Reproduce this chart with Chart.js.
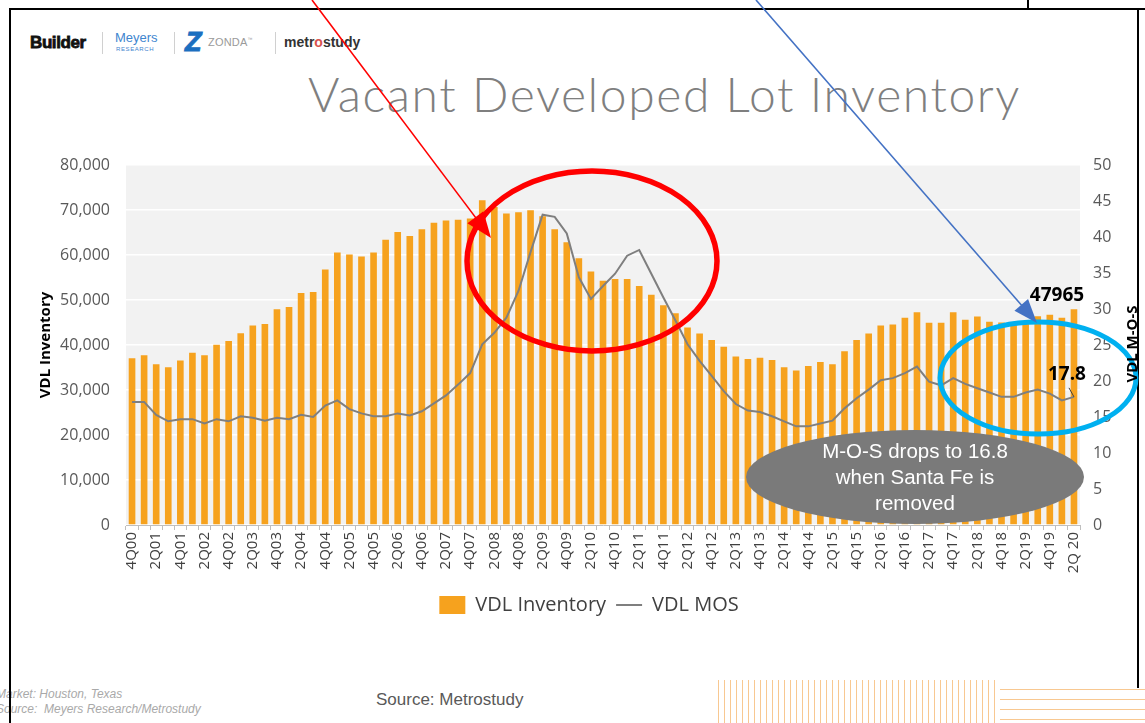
<!DOCTYPE html>
<html><head><meta charset="utf-8">
<script src="https://cdn.jsdelivr.net/npm/chart.js@4.4.0/dist/chart.umd.min.js"></script>
<style>
html,body{margin:0;padding:0;background:#fff;}
#wrap{position:relative;width:1145px;height:723px;overflow:hidden;font-family:'Liberation Sans',Arial,sans-serif;}
canvas{position:absolute;left:0;top:0;}
.abs{position:absolute;white-space:nowrap;}
.sep{position:absolute;width:1px;background:#d0d0d0;}
</style></head><body>
<div id="wrap">
  <!-- logos -->
  <div class="abs" style="left:30px;top:33px;font:bold 17px 'Liberation Sans';letter-spacing:-0.4px;color:#111;-webkit-text-stroke:0.8px #111;">Builder</div>
  <div class="sep" style="left:102px;top:32px;height:22px"></div>
  <div class="abs" style="left:115px;top:30px;font:13px 'Liberation Sans';color:#3f86cf;">Meyers</div>
  <div class="abs" style="left:116px;top:46px;font:6px 'Liberation Sans';color:#3f86cf;letter-spacing:0.6px;">RESEARCH</div>
  <div class="sep" style="left:174px;top:32px;height:22px"></div>
  <div class="abs" style="left:185px;top:27px;font:italic bold 27px 'Liberation Sans';color:#1c6fc0;-webkit-text-stroke:1px #1c6fc0;">Z</div>
  <div class="abs" style="left:208px;top:36px;font:11px 'Liberation Sans';color:#9a9a9a;letter-spacing:0.2px;">ZONDA<sup style="font-size:5px">™</sup></div>
  <div class="sep" style="left:275px;top:32px;height:22px"></div>
  <div class="abs" style="left:284px;top:34px;font:bold 14px 'Liberation Sans';color:#333;">metr<span style="color:#d9534f">o</span>study</div>
  <!-- title -->
  <div class="abs" style="left:308px;top:65px;font:300 48px Lato;letter-spacing:1.6px;color:#7f7f7f;">Vacant Developed Lot Inventory</div>
  <!-- footer -->
  <div class="abs" style="left:-4px;top:687px;font:italic 12px 'Liberation Sans';color:#a9a9a9;">Market: Houston, Texas</div>
  <div class="abs" style="left:-4px;top:702px;font:italic 12px 'Liberation Sans';color:#a9a9a9;">Source:&nbsp; Meyers Research/Metrostudy</div>
  <div class="abs" style="left:376px;top:690px;font:17px 'Liberation Sans';color:#595959;">Source: Metrostudy</div>
  <div class="abs" style="left:718px;top:680px;width:282px;height:43px;background:repeating-linear-gradient(90deg,#f8c891 0 1px,transparent 1px 6px);"></div>
  <div class="abs" style="left:1000px;top:680px;width:145px;height:43px;background:repeating-linear-gradient(180deg,transparent 0 9px,#f8c891 9px 10px);"></div>
  <!-- frame -->
  <div class="abs" style="left:9px;top:8px;width:2px;height:715px;background:#000;"></div>
  <div class="abs" style="left:9px;top:8px;width:1136px;height:2px;background:#000;"></div>
  <div class="abs" style="left:1137px;top:8px;width:2px;height:680px;background:#000;"></div>
  <div class="abs" style="left:1027px;top:0px;width:2px;height:8px;background:#000;"></div>
  <canvas id="c" width="1145" height="723"></canvas>
</div>
<script>
const categories = [
 '4Q00',
 '1Q01','2Q01','3Q01','4Q01','1Q02','2Q02','3Q02','4Q02','1Q03','2Q03','3Q03','4Q03',
 '1Q04','2Q04','3Q04','4Q04','1Q05','2Q05','3Q05','4Q05','1Q06','2Q06','3Q06','4Q06',
 '1Q07','2Q07','3Q07','4Q07','1Q08','2Q08','3Q08','4Q08','1Q09','2Q09','3Q09','4Q09',
 '1Q10','2Q10','3Q10','4Q10','1Q11','2Q11','3Q11','4Q11','1Q12','2Q12','3Q12','4Q12',
 '1Q13','2Q13','3Q13','4Q13','1Q14','2Q14','3Q14','4Q14','1Q15','2Q15','3Q15','4Q15',
 '1Q16','2Q16','3Q16','4Q16','1Q17','2Q17','3Q17','4Q17','1Q18','2Q18','3Q18','4Q18',
 '1Q19','2Q19','3Q19','4Q19','1Q20','2Q 20'
];
const vdlInventory = [
 37030,
 37700,35750,35080,36580,38280,37700,40070,40890,42610,44310,44690,47970,
 48420,51550,51780,56760,60560,60110,59660,60560,63390,65100,64200,65700,
 67190,67640,67860,68090,72180,70680,69200,69500,69940,68600,65700,62860,
 59290,56310,54300,54650,54650,53110,51170,48830,47070,43870,42570,41120,
 39620,37470,36870,37160,36650,35080,34340,35310,36200,35750,38590,41120,
 42530,44310,44540,46030,47300,44920,44920,47300,45590,46330,45140,44980,
 44920,45360,46410,46700,46030,47965
];
const vdlMOS = [
 17.1,
 17.1,15.3,14.4,14.7,14.7,14.1,14.7,14.4,15.1,14.9,14.5,14.9,
 14.7,15.3,15.0,16.6,17.3,16.1,15.5,15.1,15.1,15.5,15.2,15.8,
 16.9,18.0,19.5,21.1,25.1,26.7,28.8,32.5,37.9,43.1,42.8,40.5,
 34.4,31.4,33.2,34.9,37.4,38.2,34.9,31.6,28.4,25.1,22.8,20.7,
 18.6,16.8,15.9,15.7,15.1,14.4,13.7,13.7,14.1,14.5,16.2,17.6,
 18.8,20.1,20.4,21.1,22.0,19.9,19.4,20.4,19.6,19.0,18.4,17.8,
 17.8,18.4,18.8,18.25,17.3,17.8
];
const leftTicks = [0,10000,20000,30000,40000,50000,60000,70000,80000];
const rightTicks = [0,5,10,15,20,25,30,35,40,45,50];
const bubbleLines = ['M-O-S drops to 16.8','when Santa Fe is','removed'];

function ellipse(ctx,cx,cy,rx,ry){ctx.beginPath();ctx.ellipse(cx,cy,rx,ry,0,0,Math.PI*2);}
function arrow(ctx,x0,y0,x1,y1,color,lw,hl,hw){
  ctx.strokeStyle=color;ctx.fillStyle=color;ctx.lineWidth=lw;
  const dx=x1-x0,dy=y1-y0,L=Math.hypot(dx,dy),ux=dx/L,uy=dy/L;
  ctx.beginPath();ctx.moveTo(x0,y0);ctx.lineTo(x1-ux*hl*0.8,y1-uy*hl*0.8);ctx.stroke();
  ctx.beginPath();ctx.moveTo(x1,y1);
  ctx.lineTo(x1-ux*hl-uy*hw,y1-uy*hl+ux*hw);
  ctx.lineTo(x1-ux*hl+uy*hw,y1-uy*hl-ux*hw);
  ctx.closePath();ctx.fill();
}

const deco = {
  id:'deco',
  beforeDraw(chart){
    const {ctx,chartArea:a}=chart;
    ctx.save();ctx.fillStyle='#f2f2f2';
    ctx.fillRect(a.left,a.top,a.right-a.left,a.bottom-a.top);
    ctx.restore();
  },
  afterDraw(chart){
    const {ctx,scales}=chart;
    const xs=scales.x, ys=scales.y, y1=scales.y1;
    const last=categories.length-1;
    const lx=xs.getPixelForValue(last);
    ctx.save();
    // gray bubble
    ellipse(ctx,915,477,169,47);ctx.fillStyle='#7a7a7a';ctx.fill();
    ctx.fillStyle='#ffffff';ctx.font='20.5px "Liberation Sans"';ctx.textAlign='center';ctx.textBaseline='middle';
    bubbleLines.forEach((t,i)=>ctx.fillText(t,915,452+i*26));
    // red ellipse
    ellipse(ctx,592,261,125,90);ctx.strokeStyle='#ff0000';ctx.lineWidth=5.5;ctx.stroke();
    // blue ellipse
    ellipse(ctx,1038,378,98,56);ctx.strokeStyle='#00b0f0';ctx.lineWidth=5;ctx.stroke();
    // arrows
    arrow(ctx,312,0,491,238,'#ff0000',1.6,26,10);
    arrow(ctx,756,0,1037,323,'#4472c4',1.6,24,9);
    // data labels
    ctx.fillStyle='#000';ctx.font='bold 19px "Open Sans"';ctx.textAlign='center';ctx.textBaseline='alphabetic';
    const barTop=ys.getPixelForValue(vdlInventory[last]);
    ctx.fillText(String(vdlInventory[last]),lx-17,barTop-8);
    const pt=y1.getPixelForValue(vdlMOS[last]);
    ctx.fillText(String(vdlMOS[last]),lx-7,pt-17);
    ctx.strokeStyle='#404040';ctx.lineWidth=1;
    ctx.beginPath();ctx.moveTo(lx-5,pt-9);ctx.lineTo(lx,pt);ctx.stroke();
    // right axis title
    ctx.translate(1133,344);ctx.rotate(-Math.PI/2);
    ctx.font='bold 15px "Open Sans"';ctx.fillStyle='#000';ctx.textAlign='center';ctx.textBaseline='middle';
    ctx.fillText('VDL M-O-S',0,0);
    ctx.restore();
  }
};

Chart.defaults.font.family='"Open Sans", sans-serif';
new Chart(document.getElementById('c'),{
  type:'bar',
  data:{
    labels:categories,
    datasets:[
      {label:'VDL Inventory',data:vdlInventory,backgroundColor:'#f6a21e',borderWidth:0,
       barPercentage:0.55,categoryPercentage:1,yAxisID:'y',order:2,pointStyle:'rect'},
      {type:'line',label:'VDL MOS',data:vdlMOS,borderColor:'#7f7f7f',backgroundColor:'#7f7f7f',borderWidth:2,
       pointRadius:0,tension:0,yAxisID:'y1',order:1,pointStyle:'line'}
    ]
  },
  options:{
    responsive:false,animation:false,devicePixelRatio:1,
    layout:{padding:{top:165,left:33,right:0,bottom:98}},
    plugins:{
      legend:{position:'bottom',labels:{usePointStyle:true,pointStyleWidth:26,boxHeight:18,padding:10,
        color:'#404040',font:{size:20,family:'"Open Sans"'},
        sort:(a,b)=>a.datasetIndex-b.datasetIndex}},
      tooltip:{enabled:false}
    },
    scales:{
      x:{
        grid:{display:true,drawOnChartArea:false,drawTicks:true,tickLength:5,color:'#bfbfbf',offset:true},
        border:{display:true,color:'#bfbfbf'},
        ticks:{autoSkip:false,maxRotation:90,minRotation:90,padding:2,color:'#404040',font:{size:15},
          callback:function(v,i){return i%2===0?categories[i]:'';}},
        afterFit(s){s.height=60;}
      },
      y:{
        position:'left',min:0,max:80000,
        afterBuildTicks(s){s.ticks=leftTicks.map(v=>({value:v}));},
        grid:{color:'#ffffff',lineWidth:1.5,drawTicks:false},
        border:{display:false},
        ticks:{padding:16,color:'#595959',font:{size:16},callback:v=>v.toLocaleString('en-US')},
        title:{display:true,text:'VDL Inventory',color:'#000',font:{size:15,weight:'bold'},padding:4},
        afterFit(s){s.width=93;}
      },
      y1:{
        position:'right',min:0,max:50,
        afterBuildTicks(s){s.ticks=rightTicks.map(v=>({value:v}));},
        grid:{drawOnChartArea:false,drawTicks:false},
        border:{display:false},
        ticks:{padding:13,color:'#595959',font:{size:16}},
        afterFit(s){s.width=65;}
      }
    }
  },
  plugins:[deco]
});
</script>
</body></html>
